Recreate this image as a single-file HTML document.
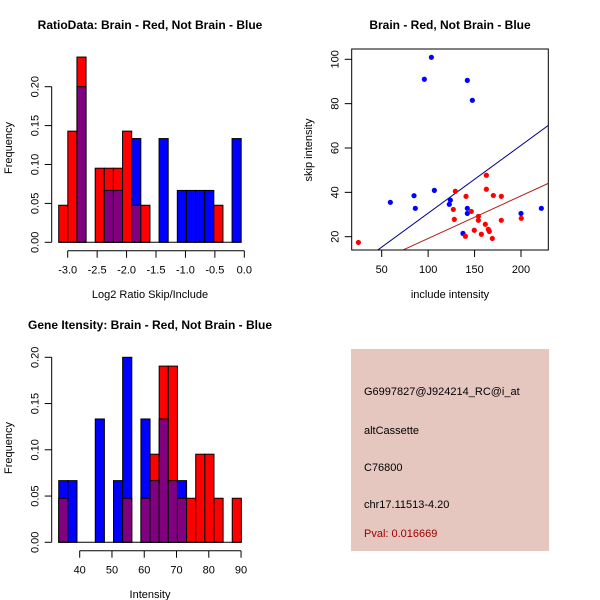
<!DOCTYPE html>
<html><head><meta charset="utf-8"><style>
html,body{margin:0;padding:0;background:#fff;}
svg{display:block;font-family:"Liberation Sans",Arial,sans-serif;}
.t{font-size:12px;font-weight:bold;}
.l{font-size:11px;}
</style></head><body>
<svg id="c" width="600" height="600" viewBox="0 0 600 600">
<rect x="0" y="0" width="600" height="600" fill="#fff"/>
<g id="h1"></g>
<g id="sc"></g>
<g id="h2"></g>
<g>
<rect x="351" y="349" width="198" height="202" fill="#e5c7c0"/>
<text x="364" y="395" class="l">G6997827@J924214_RC@i_at</text>
<text x="364" y="434" class="l">altCassette</text>
<text x="364" y="471" class="l">C76800</text>
<text x="364" y="508" class="l">chr17.11513-4.20</text>
<text x="364" y="537" class="l" fill="#a00000">Pval: 0.016669</text>
</g>
</svg>
<script>
// Histogram 1 data (counts per bin)
const h1Start = -3.153;
const h1Width = 0.155;
const h1Red = [1,3,5,0,2,2,2,3,1,1,0,0,0,0,0,0,0,1,0,0];
const h1Blue = [0,0,3,0,0,1,1,0,2,0,0,2,0,1,1,1,1,0,0,2];
const h1XTicks = [-3.0,-2.5,-2.0,-1.5,-1.0,-0.5,0.0];
const h1XLabels = ["-3.0","-2.5","-2.0","-1.5","-1.0","-0.5","0.0"];
const freqTicks = [0,0.05,0.10,0.15,0.20];
const freqLabels = ["0.00","0.05","0.10","0.15","0.20"];
// Histogram 2 data
const h2Start = 33.5;
const h2Width = 2.83;
const h2Red = [1,0,0,0,0,0,0,1,0,1,2,4,4,1,1,2,2,1,0,1];
const h2Blue = [1,1,0,0,2,0,1,3,0,2,1,2,1,1,0,0,0,0,0,0];
const h2XTicks = [40,50,60,70,80,90];
const h2XLabels = ["40","50","60","70","80","90"];
// Scatter data
const blueX = [103.5,95.9,142.2,147.6,106.7,84.8,59.3,86.2,123.9,122.8,142.2,142.2,137.5,200,221.9];
const blueY = [100.9,91.0,90.5,81.5,40.9,38.5,35.5,32.8,36.5,34.6,32.8,30.5,21.5,30.5,32.8];
const redX = [24.9,129.3,140.8,162.7,162.7,170.2,178.8,127.1,128.2,146.5,154.1,154.1,161.6,178.8,200.3,149.7,164.8,165.9,157.3,140.1,169.1];
const redY = [17.4,40.5,38.2,47.7,41.4,38.6,38.2,32.3,27.8,31.4,29.2,27.4,25.6,27.4,28.3,22.9,23.3,22.4,21.1,20.2,19.2];
const blueSlope = 0.306;
const redSlope = 0.192;
const scXTicks = [50,100,150,200];
const scYTicks = [20,40,60,80,100];

const NS = "http://www.w3.org/2000/svg";
function mk(parent, tag, attrs, txt){
  const e = document.createElementNS(NS, tag);
  for (const k in attrs) e.setAttribute(k, attrs[k]);
  if (txt !== undefined) e.textContent = txt;
  parent.appendChild(e);
  return e;
}

function histogram(g, cfg){
  const xs = v => cfg.x0px + (v - cfg.x0v) * cfg.xk;
  const ys = v => cfg.y0px - v * cfg.yk;
  const nR = cfg.red.reduce((a,b)=>a+b,0), nB = cfg.blue.reduce((a,b)=>a+b,0);
  for (let i = 0; i < cfg.red.length; i++){
    const fr = cfg.red[i]/nR, fb = cfg.blue[i]/nB;
    const x1 = xs(cfg.start + i*cfg.width), x2 = xs(cfg.start + (i+1)*cfg.width);
    const mx = Math.max(fr, fb), mn = Math.min(fr, fb);
    if (mx > 0){
      const r = mk(g,'rect',{x:x1,y:ys(mx),width:x2-x1,height:ys(0)-ys(mx),fill:fr>=fb?'#ff0000':'#0000ff',stroke:'#000','stroke-width':1});
      
      
    }
    if (mn > 0){
      const p = mk(g,'rect',{x:x1,y:ys(mn),width:x2-x1,height:ys(0)-ys(mn),fill:'#800080',stroke:'#000','stroke-width':1});
      
      
    }
  }
  const bl = mk(g,'line',{x1:xs(cfg.start),x2:xs(cfg.start+cfg.red.length*cfg.width),y1:ys(0),y2:ys(0),stroke:'#000'});
  
  
  // y axis
  const ya = mk(g,'g',{});
  
  
  mk(ya,'line',{x1:cfg.yAxisX,x2:cfg.yAxisX,y1:ys(freqTicks[0]),y2:ys(freqTicks[freqTicks.length-1]),stroke:'#000'});
  freqTicks.forEach((t,i)=>{
    mk(ya,'line',{x1:cfg.yAxisX-7,x2:cfg.yAxisX,y1:ys(t),y2:ys(t),stroke:'#000'});
    const tx = mk(ya,'text',{x:0,y:0,'font-size':11,'text-anchor':'middle',transform:`translate(${cfg.yAxisX-13},${ys(t)}) rotate(-90)`},freqLabels[i]);
    
    
  });
  // x axis
  const xa = mk(g,'g',{});
  
  
  mk(xa,'line',{x1:xs(cfg.xt[0]),x2:xs(cfg.xt[cfg.xt.length-1]),y1:cfg.xAxisY,y2:cfg.xAxisY,stroke:'#000'});
  cfg.xt.forEach((t,i)=>{
    mk(xa,'line',{x1:xs(t),x2:xs(t),y1:cfg.xAxisY,y2:cfg.xAxisY+7,stroke:'#000'});
    const tx = mk(xa,'text',{x:xs(t),y:cfg.xAxisY+23,'font-size':11,'text-anchor':'middle'},cfg.xl[i]);
    
    
  });
  const ti = mk(g,'text',{x:150,y:cfg.titleY,class:'t','text-anchor':'middle'},cfg.title);
  
  
  const xt = mk(g,'text',{x:150,y:cfg.xTitleY,'font-size':11,'text-anchor':'middle'},cfg.xTitle);
  
  
  const yt = mk(g,'text',{x:0,y:0,'font-size':11,'text-anchor':'middle',transform:`translate(12,${cfg.yTitleY}) rotate(-90)`},'Frequency');
  
  
}

histogram(document.getElementById('h1'),{
  start:h1Start,width:h1Width,red:h1Red,blue:h1Blue,xt:h1XTicks,xl:h1XLabels,
  x0v:-3,x0px:67.7,xk:58.87,y0px:242.3,yk:778,yAxisX:51.7,xAxisY:250.7,
  title:'RatioData: Brain - Red, Not Brain - Blue',titleY:29,xTitle:'Log2 Ratio Skip/Include',xTitleY:298,yTitleY:148
});
histogram(document.getElementById('h2'),{
  start:h2Start,width:h2Width,red:h2Red,blue:h2Blue,xt:h2XTicks,xl:h2XLabels,
  x0v:40,x0px:79.7,xk:3.227,y0px:542.3,yk:925,yAxisX:51.7,xAxisY:550.7,
  title:'Gene Itensity: Brain - Red, Not Brain - Blue',titleY:329,xTitle:'Intensity',xTitleY:598,yTitleY:448
});

(function(){
  const g = document.getElementById('sc');
  const L=351.7,R=548.3,T=49,B=250;
  const xs = v => 381.7 + (v-50)*0.9287;
  const ys = v => 59.3 - (v-100)*2.2175;
  const cp = mk(g,'clipPath',{id:'scclip'});
  mk(cp,'rect',{x:L,y:T,width:R-L,height:B-T});
  const lines = mk(g,'g',{'clip-path':'url(#scclip)'});
  const xa0 = 17.7, xa1 = 229.4;
  const bl = mk(lines,'line',{x1:xs(xa0),y1:ys(blueSlope*xa0),x2:xs(xa1),y2:ys(blueSlope*xa1),stroke:'#00008b'});
  
  
  const rl = mk(lines,'line',{x1:xs(xa0),y1:ys(redSlope*xa0),x2:xs(xa1),y2:ys(redSlope*xa1),stroke:'#b22222'});
  
  
  blueX.forEach((x,i)=>{
    const c = mk(g,'circle',{cx:xs(x),cy:ys(blueY[i]),r:2.6,fill:'#0000ff'});
    
    
  });
  redX.forEach((x,i)=>{
    const c = mk(g,'circle',{cx:xs(x),cy:ys(redY[i]),r:2.6,fill:'#ff0000'});
    
    
  });
  const box = mk(g,'rect',{x:L,y:T,width:R-L,height:B-T,fill:'none',stroke:'#000'});
  
  
  scXTicks.forEach(t=>{
    mk(g,'line',{x1:xs(t),x2:xs(t),y1:B,y2:B+7,stroke:'#000'});
    const tx = mk(g,'text',{x:xs(t),y:B+23,'font-size':11,'text-anchor':'middle'},String(t));
    
    
  });
  scYTicks.forEach(t=>{
    mk(g,'line',{x1:L-7,x2:L,y1:ys(t),y2:ys(t),stroke:'#000'});
    const tx = mk(g,'text',{x:0,y:0,'font-size':11,'text-anchor':'middle',transform:`translate(${L-13},${ys(t)}) rotate(-90)`},String(t));
    
    
  });
  const ti = mk(g,'text',{x:450,y:29,class:'t','text-anchor':'middle'},'Brain - Red, Not Brain - Blue');
  
  
  const xt = mk(g,'text',{x:450,y:298,'font-size':11,'text-anchor':'middle'},'include intensity');
  
  
  const yt = mk(g,'text',{x:0,y:0,'font-size':11,'text-anchor':'middle',transform:'translate(312,150) rotate(-90)'},'skip intensity');
  
  
})();
</script>
</body></html>
